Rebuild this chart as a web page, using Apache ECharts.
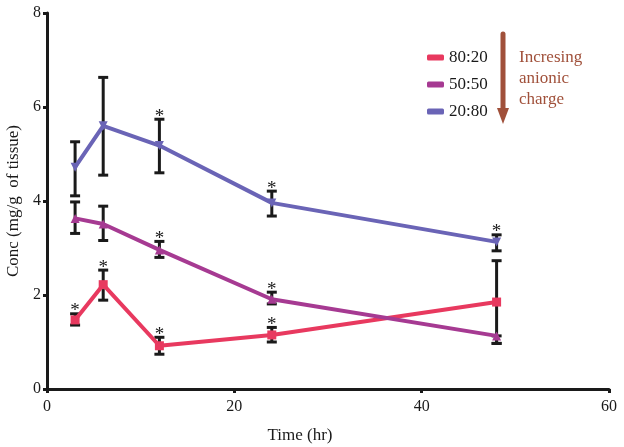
<!DOCTYPE html>
<html><head><meta charset="utf-8">
<script src="https://cdn.jsdelivr.net/npm/echarts@6/dist/echarts.min.js"></script>
<style>html,body{margin:0;padding:0;background:#fff}#c{width:624px;height:447px}</style>
</head><body><div id="c"></div>
<script>
var times = [3, 6, 12, 24, 48];
var names = ['80:20', '50:50', '20:80'];
var colors = ['#e8395f', '#a63a92', '#6a64b6'];
var symbols = ['rect', 'triangle', 'path://M0,0 L10,0 L5,10 Z'];
var mean8020 = [1.47, 2.22, 0.92, 1.15, 1.85];
var lo8020   = [1.36, 1.89, 0.74, 1.00, 0.97];
var hi8020   = [1.60, 2.53, 1.10, 1.31, 2.73];
var star8020 = [1, 1, 1, 1, 0];
var mean5050 = [3.63, 3.51, 2.96, 1.91, 1.13];
var lo5050   = [3.31, 3.16, 2.80, 1.81, 0.97];
var hi5050   = [3.98, 3.89, 3.14, 2.06, 1.13];
var star5050 = [0, 0, 1, 1, 0];
var mean2080 = [4.72, 5.60, 5.18, 3.96, 3.13];
var lo2080   = [4.11, 4.55, 4.60, 3.68, 2.94];
var hi2080   = [5.26, 6.63, 5.74, 4.21, 3.28];
var star2080 = [0, 0, 1, 1, 1];

var means = [mean8020, mean5050, mean2080];
var los = [lo8020, lo5050, lo2080];
var his = [hi8020, hi5050, hi2080];
var stars = [star8020, star5050, star2080];
var FONT = '"Liberation Serif", "Times New Roman", serif';

var series = [];
for (var s = 0; s < 3; s++) {
  var errData = times.map(function (t, i) { return [t, los[s][i], his[s][i], stars[s][i]]; });
  series.push({
    type: 'custom', name: names[s] + '_err', z: 1, silent: true,
    data: errData,
    encode: { x: 0, y: [1, 2] },
    renderItem: function (params, api) {
      var x = api.value(0), lo = api.value(1), hi = api.value(2), st = api.value(3);
      var pLo = api.coord([x, lo]), pHi = api.coord([x, hi]);
      var w = 5;
      var children = [];
      if (hi > lo) {
        children.push({ type: 'line', shape: { x1: pLo[0], y1: pLo[1], x2: pHi[0], y2: pHi[1] }, style: { stroke: '#1a1a1a', lineWidth: 3 } });
        children.push({ type: 'line', shape: { x1: pLo[0] - w, y1: pLo[1], x2: pLo[0] + w, y2: pLo[1] }, style: { stroke: '#1a1a1a', lineWidth: 3 } });
        children.push({ type: 'line', shape: { x1: pHi[0] - w, y1: pHi[1], x2: pHi[0] + w, y2: pHi[1] }, style: { stroke: '#1a1a1a', lineWidth: 3 } });
      }
      if (st) {
        children.push({ type: 'text', style: { text: '*', x: pHi[0], y: pHi[1] + 7, align: 'center', verticalAlign: 'bottom', font: '19px ' + FONT, fill: '#1a1a1a' } });
      }
      return { type: 'group', children: children };
    }
  });
}
for (var s2 = 0; s2 < 3; s2++) {
  series.push({
    type: 'line', name: names[s2], z: 3,
    data: times.map(function (t, i) { return [t, means[s2][i]]; }),
    symbol: symbols[s2], symbolSize: 9,
    showSymbol: true,
    lineStyle: { color: colors[s2], width: 4 },
    itemStyle: { color: colors[s2] }
  });
}

var chart = echarts.init(document.getElementById('c'), null, { renderer: 'canvas' });
chart.setOption({
  animation: false,
  backgroundColor: '#fff',
  grid: { left: 47, right: 15, top: 13, bottom: 58, containLabel: false, outerBoundsMode: 'none' },
  legend: {
    data: names.map(function (n, i) { return { name: n, icon: 'roundRect' }; }),
    orient: 'vertical', left: 422, top: 44, itemGap: 10,
    itemWidth: 17, itemHeight: 6,
    textStyle: { fontFamily: FONT, fontSize: 17, color: '#1a1a1a' }
  },
  xAxis: {
    type: 'value', min: 0, max: 60, interval: 20,
    name: 'Time (hr)', nameLocation: 'middle', nameGap: 38,
    nameTextStyle: { fontFamily: FONT, fontSize: 17, color: '#1a1a1a', padding: [0, 56, 0, 0] },
    axisLine: { lineStyle: { color: '#1a1a1a', width: 3 } },
    axisTick: { show: true, length: 4, lineStyle: { width: 3, color: '#1a1a1a' } },
    axisLabel: { fontFamily: FONT, fontSize: 16, color: '#1a1a1a', margin: 10 },
    splitLine: { show: false }
  },
  yAxis: {
    type: 'value', min: 0, max: 8, interval: 2,
    name: 'Conc (mg/g  of tissue)', nameLocation: 'middle', nameGap: 25,
    nameTextStyle: { fontFamily: FONT, fontSize: 17, color: '#1a1a1a' },
    axisLine: { show: true, lineStyle: { color: '#1a1a1a', width: 3 } },
    axisTick: { show: true, length: 4, lineStyle: { width: 3, color: '#1a1a1a' } },
    axisLabel: { fontFamily: FONT, fontSize: 16, color: '#1a1a1a', margin: 6 },
    splitLine: { show: false }
  },
  graphic: [
    { type: 'line', shape: { x1: 503, y1: 34, x2: 503, y2: 112 }, style: { stroke: '#a0503a', lineWidth: 5, lineCap: 'round' } },
    { type: 'polygon', shape: { points: [[497, 108], [509, 108], [503, 124]] }, style: { fill: '#a0503a' } },
    { type: 'text', left: 519, top: 47, style: { text: 'Incresing\nanionic\ncharge', font: '17px ' + FONT, fill: '#a0503a', lineHeight: 21 } }
  ],
  series: series
});
</script></body></html>
